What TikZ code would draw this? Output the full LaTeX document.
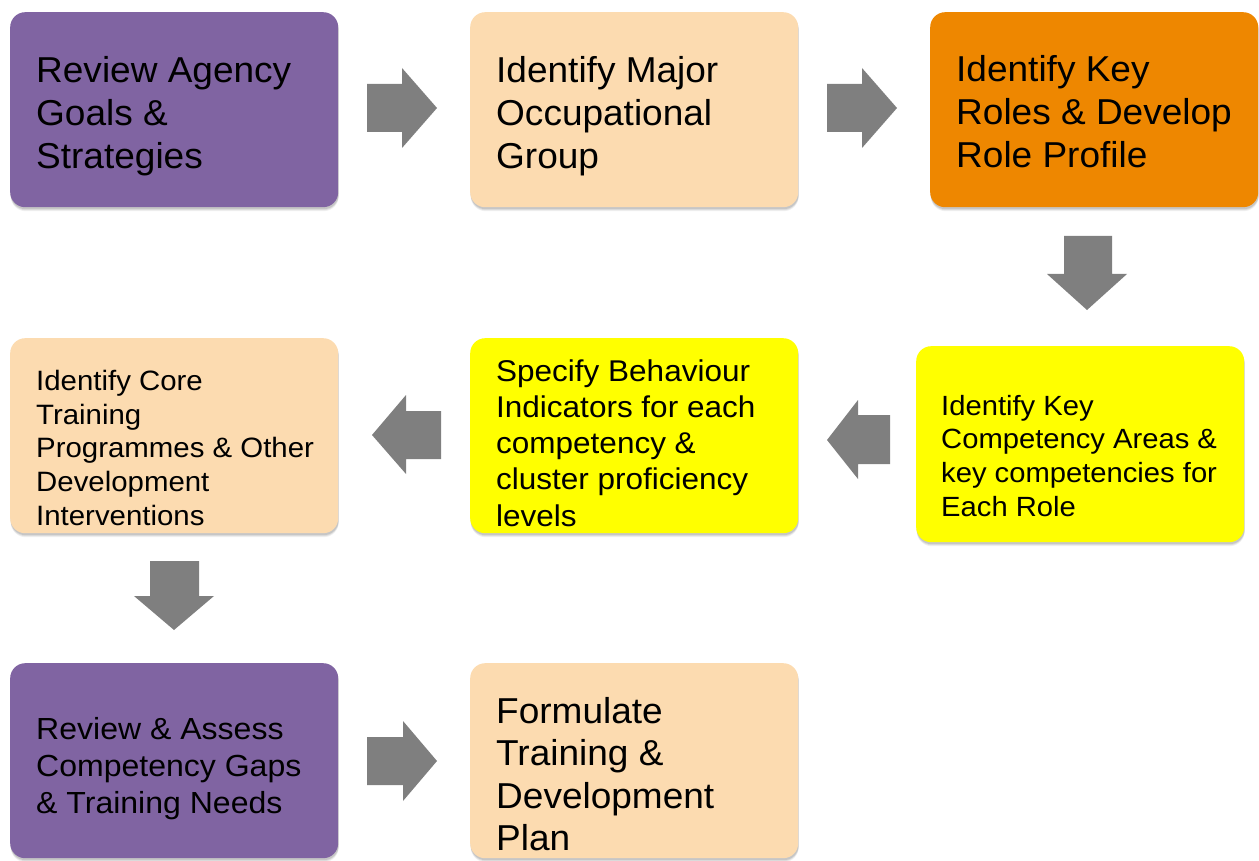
\documentclass[tikz,border=0pt]{standalone}
\usepackage{fontspec}
\setmainfont[FakeStretch=1.028]{Liberation Sans}
\newfontfamily\widesans[FakeStretch=1.05]{Liberation Sans}
\usetikzlibrary{shadows}
\definecolor{stagepurple}{HTML}{8064A2}
\definecolor{stagepeach}{HTML}{FCDBB0}
\definecolor{stageorange}{HTML}{EE8700}
\definecolor{stageyellow}{HTML}{FFFF00}
\definecolor{arrowgrey}{HTML}{7F7F7F}
% first-line strut of one em, so a north west anchor sits 1em above the first baseline
\newcommand{\firststrut}{\rule{0pt}{1em}}
\begin{document}
\begin{tikzpicture}[x=1pt,y=-1pt,
  softshadow/.style={
    drop shadow={shadow xshift=0.5pt, shadow yshift=-4pt, fill=black, opacity=0.06},
    drop shadow={shadow xshift=0.5pt, shadow yshift=-3pt, fill=black, opacity=0.08},
    drop shadow={shadow xshift=0.5pt, shadow yshift=-2pt, fill=black, opacity=0.10}},
  stagebox/.style={anchor=north west, rounded corners=15pt, minimum width=328pt,
    minimum height=195pt, inner sep=0pt, draw=none, softshadow},
  stagetext/.style={anchor=north west, inner sep=0pt, align=left, text=black},
  big/.style={font=\fontsize{36}{43}\selectfont},
  blockarrow/.style={fill=arrowgrey, draw=none}]

\useasboundingbox (0,0) rectangle (1259,861);

% stage boxes
\node[stagebox, fill=stagepurple] (goals)   at (10,12)   {};
\node[stagebox, fill=stagepeach]  (occup)   at (470,12)  {};
\node[stagebox, fill=stageorange] (roles)   at (930,12)  {};
\node[stagebox, fill=stageyellow, minimum height=196pt] (areas) at (916,346) {};
\node[stagebox, fill=stageyellow] (indic)   at (470,338) {};
\node[stagebox, fill=stagepeach]  (core)    at (10,338)  {};
\node[stagebox, fill=stagepurple] (gaps)    at (10,663)  {};
\node[stagebox, fill=stagepeach]  (plan)    at (470,663) {};

% stage texts
\node[stagetext, big] (goalsT) at (36,46)
  {\firststrut Review Agency\\Goals \&\\Strategies};
\node[stagetext, big] (occupT) at (496,46)
  {\firststrut Identify Major\\Occupational\\Group};
\node[stagetext, big] (rolesT) at (956,45)
  {\firststrut Identify Key\\Roles \& Develop\\Role Profile};
\node[stagetext, font=\widesans\fontsize{27.8}{33.7}\selectfont] (areasT) at (941,387.2)
  {\firststrut Identify Key\\Competency Areas \&\\key competencies for\\Each Role};
\node[stagetext, font=\widesans\fontsize{30}{36.2}\selectfont] (indicT) at (496,351)
  {\firststrut Specify Behaviour\\Indicators for each\\competency \&\\cluster proficiency\\levels};
\node[stagetext, font=\widesans\fontsize{28}{33.8}\selectfont] (coreT) at (36,362)
  {\firststrut Identify Core\\Training\\Programmes \& Other\\Development\\Interventions};
\node[stagetext, font=\widesans\fontsize{30.5}{37}\selectfont] (gapsT) at (36,708.5)
  {\firststrut Review \& Assess\\Competency Gaps\\\& Training Needs};
\node[stagetext, font=\fontsize{36}{42.5}\selectfont] (planT) at (496,687)
  {\firststrut Formulate\\Training \&\\Development\\Plan};

% block arrows between the stages
\fill[blockarrow] (367,84) -- (402,84) -- (402,68) -- (437,108) -- (402,148) -- (402,132) -- (367,132) -- cycle;
\fill[blockarrow] (827,84) -- (862,84) -- (862,68) -- (897,108) -- (862,148) -- (862,132) -- (827,132) -- cycle;
\fill[blockarrow] (1064,236) -- (1112,236) -- (1112,274) -- (1127,274) -- (1087,310) -- (1047,274) -- (1064,274) -- cycle;
\fill[blockarrow] (827,440) -- (858,400) -- (858,415) -- (890,415) -- (890,464) -- (858,464) -- (858,479) -- cycle;
\fill[blockarrow] (372,435) -- (406,395) -- (406,411) -- (441,411) -- (441,459) -- (406,459) -- (406,474) -- cycle;
\fill[blockarrow] (150,561) -- (199,561) -- (199,596) -- (214,596) -- (174,630) -- (134,596) -- (150,596) -- cycle;
\fill[blockarrow] (367,737) -- (403,737) -- (403,721) -- (437,761) -- (403,801) -- (403,785) -- (367,785) -- cycle;

\end{tikzpicture}
\end{document}
